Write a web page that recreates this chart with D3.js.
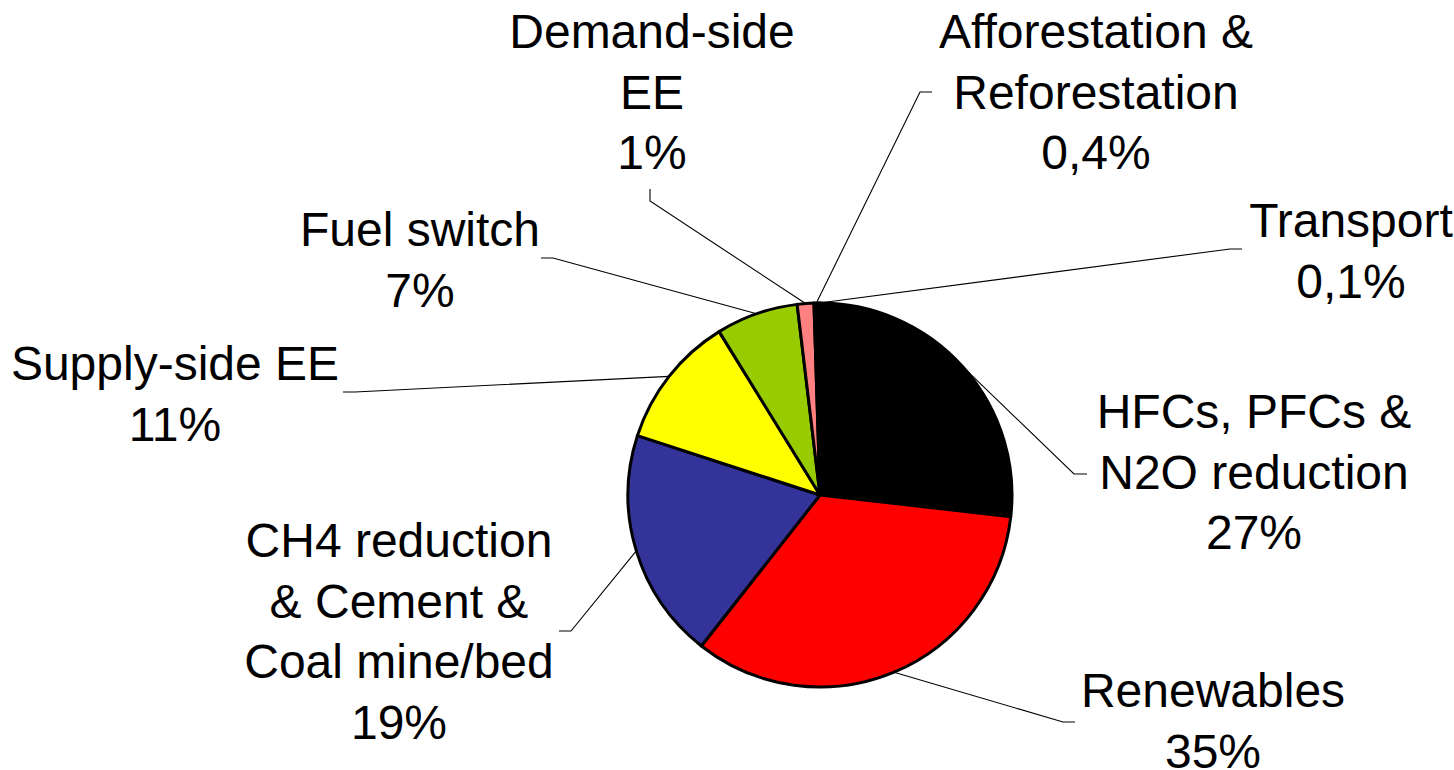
<!DOCTYPE html>
<html>
<head>
<meta charset="utf-8">
<script src="https://cdn.jsdelivr.net/npm/d3@7"></script>
<style>
  html, body { margin: 0; padding: 0; background: #ffffff; }
  svg { display: block; }
  text { font-family: "Liberation Sans", Arial, sans-serif; font-size: 48px; fill: #000; }
</style>
</head>
<body>
<svg id="chart" width="1454" height="770"></svg>
<script>
// ---- data ----
const categories = [
  "HFCs, PFCs & N2O reduction",
  "Renewables",
  "CH4 reduction & Cement & Coal mine/bed",
  "Supply-side EE",
  "Fuel switch",
  "Demand-side EE",
  "Afforestation & Reforestation",
  "Transport"
];
const values = [26.8, 33.8, 19.4, 11.2, 6.9, 1.4, 0.4, 0.1];
const valueLabels = ["27%", "35%", "19%", "11%", "7%", "1%", "0,4%", "0,1%"];
const labelLines = [
  ["HFCs, PFCs &", "N2O reduction"],
  ["Renewables"],
  ["CH4 reduction", "& Cement &", "Coal mine/bed"],
  ["Supply-side EE"],
  ["Fuel switch"],
  ["Demand-side", "EE"],
  ["Afforestation &", "Reforestation"],
  ["Transport"]
];
const colors = ["#000000", "#FF0000", "#333399", "#FFFF00", "#99CC00", "#FF8080", "#000000", "#000000"];

// ---- layout (label placement, not data) ----
const cx = 820, cy = 495, R = 192, lineH = 60.5;
const labelPos = [
  { x: 1254, y: 428, a: [1087, 474], e: [1074, 474] },
  { x: 1213, y: 707, a: [1075, 722], e: [1063, 722] },
  { x: 399,  y: 557, a: [559, 631],  e: [571, 631] },
  { x: 175,  y: 380, a: [343, 392],  e: [355, 392] },
  { x: 420,  y: 246, a: [541, 258],  e: [553, 258] },
  { x: 652,  y: 48,  a: [650, 189],  e: [650, 201] },
  { x: 1096, y: 48,  a: [932, 92],   e: [920, 92] },
  { x: 1351, y: 237, a: [1242, 249], e: [1230, 249] }
];

const svg = d3.select("#chart");
const g = svg.append("g").attr("transform", `translate(${cx},${cy})`);

const data = categories.map((c, i) => ({ name: c, value: values[i], i }));
const pie = d3.pie().sort(null).value(d => d.value).startAngle(0).endAngle(2 * Math.PI);
const arcs = pie(data);
const arc = d3.arc().innerRadius(0).outerRadius(R);

g.selectAll("path.slice")
  .data(arcs)
  .join("path")
  .attr("class", "slice")
  .attr("d", arc)
  .attr("fill", d => colors[d.data.i])
  .attr("stroke", "#000")
  .attr("stroke-width", 3)
  .attr("stroke-linejoin", "round");

// leader lines
const line = d3.line();
const leaders = svg.append("g");
arcs.forEach(d => {
  const p = labelPos[d.data.i];
  const mid = (d.startAngle + d.endAngle) / 2;
  const edge = [cx + R * Math.sin(mid), cy - R * Math.cos(mid)];
  leaders.append("path")
    .attr("d", line([p.a, p.e, edge]))
    .attr("fill", "none")
    .attr("stroke", "#000")
    .attr("stroke-width", 1.1);
});

// labels
const labels = svg.append("g");
data.forEach(d => {
  const p = labelPos[d.i];
  const lines = labelLines[d.i].concat([valueLabels[d.i]]);
  const t = labels.append("text")
    .attr("text-anchor", "middle")
    .attr("x", p.x)
    .attr("y", p.y);
  lines.forEach((l, k) => {
    t.append("tspan").attr("x", p.x).attr("y", p.y + k * lineH).text(l);
  });
});
</script>
</body>
</html>
